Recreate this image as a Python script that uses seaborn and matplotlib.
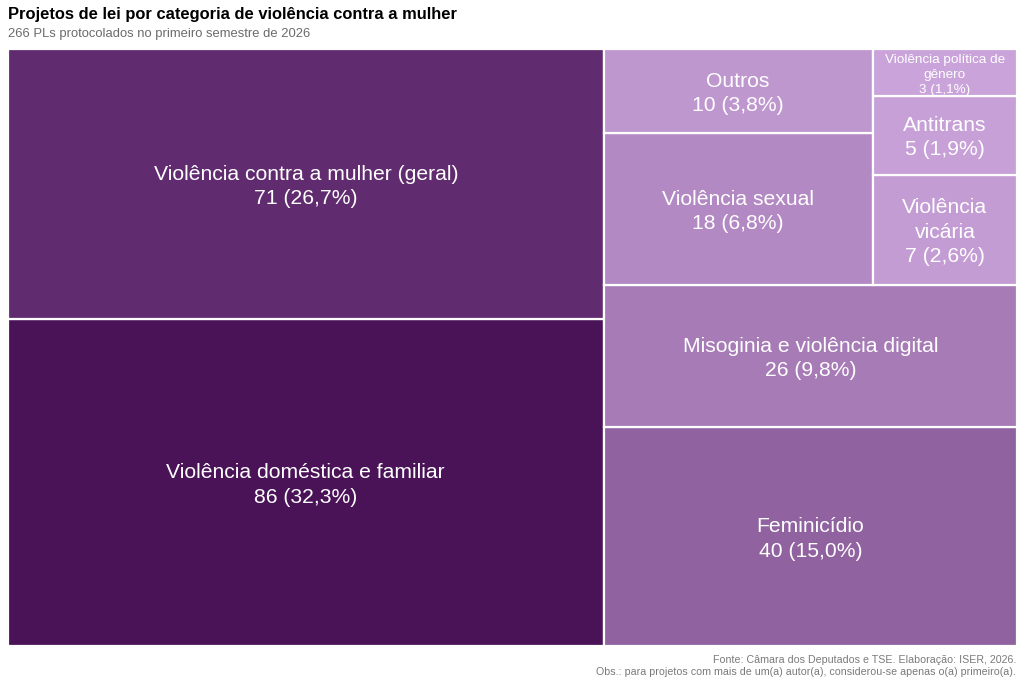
import textwrap
import matplotlib
matplotlib.use("Agg")
import matplotlib.pyplot as plt
import matplotlib.colors as mcolors
import matplotlib.transforms as mtransforms
from matplotlib.patches import Rectangle
import seaborn as sns

# ---------------- data ----------------
categories = [
    "Violência doméstica e familiar",
    "Violência contra a mulher (geral)",
    "Feminicídio",
    "Misoginia e violência digital",
    "Violência sexual",
    "Outros",
    "Violência vicária",
    "Antitrans",
    "Violência política de gênero",
]
counts = [86, 71, 40, 26, 18, 10, 7, 5, 3]

title = "Projetos de lei por categoria de violência contra a mulher"
subtitle = "266 PLs protocolados no primeiro semestre de 2026"
caption = ("Fonte: Câmara dos Deputados e TSE. Elaboração: ISER, 2026.\n"
           "Obs.: para projetos com mais de um(a) autor(a), considerou-se apenas o(a) primeiro(a).")

# ---------------- squarified layout (unit square) ----------------
def squarify(values, x0, y0, x1, y1):
    rects = [None] * len(values)
    order = sorted(range(len(values)), key=lambda i: -values[i])
    vals = [values[i] for i in order]
    total = float(sum(vals))
    i0 = 0
    n = len(vals)
    while i0 < n:
        dx, dy = x1 - x0, y1 - y0
        i1 = i0
        s = vals[i1]; i1 += 1
        mn = mx = s
        alpha = max(dy / dx, dx / dy) / total
        beta = s * s * alpha
        best = max(mx / beta, beta / mn)
        while i1 < n:
            v = vals[i1]
            s2 = s + v
            mn2 = min(mn, v); mx2 = max(mx, v)
            beta = s2 * s2 * alpha
            r = max(mx2 / beta, beta / mn2)
            if r > best:
                break
            s, mn, mx, best = s2, mn2, mx2, r
            i1 += 1
        row = list(range(i0, i1))
        if dx < dy:  # horizontal strip across the width
            h = dy * s / total
            cx = x0
            for k in row:
                w = dx * vals[k] / s
                rects[order[k]] = (cx, y0, w, h)
                cx += w
            y0 += h
        else:  # vertical column
            w = dx * s / total
            cy = y0
            for k in row:
                h = dy * vals[k] / s
                rects[order[k]] = (x0, cy, w, h)
                cy += h
            x0 += w
        total -= s
        i0 = i1
    return rects

rects = squarify(counts, 0.0, 0.0, 1.0, 1.0)

# ---------------- figure ----------------
sns.set_theme(style="white")
plt.rcParams["font.family"] = ["Liberation Sans", "DejaVu Sans"]

W, H = 1024, 683
fig = plt.figure(figsize=(W / 100, H / 100), dpi=100)
ax = fig.add_axes([8 / W, (H - 646) / H, (1017 - 8) / W, (646 - 49) / H])
ax.set_xlim(0, 1)
ax.set_ylim(0, 1)
ax.axis("off")

cmap = mcolors.LinearSegmentedColormap.from_list("purp", ["#c9a3da", "#4a1257"])
norm = mcolors.Normalize(vmin=min(counts), vmax=max(counts))
total = sum(counts)

for (x, y, w, h), v in zip(rects, counts):
    ax.add_patch(Rectangle((x, y), w, h, facecolor=cmap(norm(v)),
                           edgecolor="white", linewidth=1.6))

fig.canvas.draw()
renderer = fig.canvas.get_renderer()
ax_bb = ax.get_window_extent(renderer)
LS = 1.35
shift = mtransforms.offset_copy(ax.transData, fig=fig, x=0, y=-2.5, units="dots")

def measure(txt, fs):
    t = ax.text(0.5, 0.5, txt, fontsize=fs, ha="center", va="center", linespacing=LS)
    bb = t.get_window_extent(renderer)
    t.remove()
    return bb.width, bb.height

for (x, y, w, h), name, v in zip(rects, categories, counts):
    wpx = w * ax_bb.width - 2
    hpx = h * ax_bb.height
    pct = f"{v / total * 100:.1f}".replace(".", ",")
    line2 = f"{v} ({pct}%)"
    fs = 15.2
    label = None
    while fs >= 5 and label is None:
        for width in range(len(name), 4, -1):
            cand = "\n".join(textwrap.wrap(name, width)) + "\n" + line2
            tw, th = measure(cand, fs)
            if tw <= wpx and th <= hpx:
                label = cand
                break
        if label is None:
            fs -= 0.25
    ax.text(x + w / 2, y + h / 2, label, fontsize=fs, color="white",
            ha="center", va="center", linespacing=LS, transform=shift)

fig.text(8 / W, 1 - 14.5 / H, title, fontsize=11.9, fontweight="bold",
         color="black", ha="left", va="center")
fig.text(8 / W, 1 - 34.5 / H, subtitle, fontsize=9.35, color="#6b6b6b",
         ha="left", va="center")
fig.text(1016 / W, 1 - 666 / H, caption, fontsize=7.7, color="#7a7a7a",
         ha="right", va="center", linespacing=1.25, multialignment="right")

fig.savefig("out.png", dpi=100, facecolor="white")
